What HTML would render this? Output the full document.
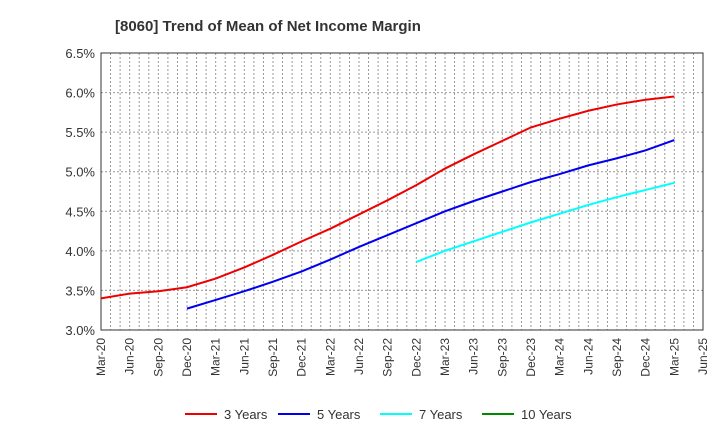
<!DOCTYPE html>
<html><head><meta charset="utf-8"><style>
body{margin:0;background:#fff;font-family:"Liberation Sans",Arial,sans-serif}
</style></head><body>
<svg width="720" height="440" xmlns="http://www.w3.org/2000/svg" style="font-family:'Liberation Sans',Arial,sans-serif">
<text x="115" y="31" font-size="15" font-weight="bold" fill="#333">[8060]  Trend of Mean of Net Income Margin</text>
<g id="grid"></g>
<g id="axes"></g>
<g id="series"></g>
<g id="legend"></g>
</svg>
<script>
const xLabels=["Mar-20","Jun-20","Sep-20","Dec-20","Mar-21","Jun-21","Sep-21","Dec-21","Mar-22","Jun-22","Sep-22","Dec-22","Mar-23","Jun-23","Sep-23","Dec-23","Mar-24","Jun-24","Sep-24","Dec-24","Mar-25","Jun-25"];
const yTicks=[3.0,3.5,4.0,4.5,5.0,5.5,6.0,6.5];
const y3=[3.40,3.46,3.49,3.54,3.65,3.79,3.95,4.12,4.28,4.46,4.64,4.83,5.04,5.22,5.39,5.56,5.67,5.77,5.85,5.91,5.95];
const y5=[null,null,null,3.27,3.38,3.49,3.61,3.74,3.89,4.05,4.20,4.35,4.50,4.63,4.75,4.87,4.97,5.08,5.17,5.27,5.40];
const y7=[null,null,null,null,null,null,null,null,null,null,null,3.86,4.00,4.12,4.24,4.36,4.47,4.58,4.68,4.77,4.86];
const y10=[];
const L=101,R=703,T=53,B=330,NS="http://www.w3.org/2000/svg";
const xs=i=>L+(R-L)*i/(xLabels.length-1);
const ys=v=>B-(v-3.0)/(6.5-3.0)*(B-T);
function mk(t,a,p){const e=document.createElementNS(NS,t);for(const k in a)e.setAttribute(k,a[k]);p.appendChild(e);return e;}
const g=document.getElementById('grid'),ax=document.getElementById('axes'),s=document.getElementById('series'),lg=document.getElementById('legend');
for(let m=1;m<(xLabels.length-1)*3;m++){const x=L+(R-L)*m/((xLabels.length-1)*3);
const l=mk('line',{x1:x,x2:x,y1:T,y2:B,stroke:'#999','stroke-dasharray':'2,2','stroke-width':1},g);

}
yTicks.forEach(v=>{const y=ys(v);
const l=mk('line',{x1:L,x2:R,y1:y,y2:y,stroke:'#999','stroke-dasharray':'2,2'},g);


const t=mk('text',{x:L-6,y:y+5,'text-anchor':'end','font-size':13,fill:'#333'},ax);t.textContent=v.toFixed(1)+'%';

});
const fr=mk('rect',{x:L,y:T,width:R-L,height:B-T,fill:'none',stroke:'#333'},ax);


xLabels.forEach((lb,i)=>{const x=xs(i);
const t=mk('text',{x:0,y:0,'text-anchor':'end','font-size':12,fill:'#333',transform:`translate(${x+4},${B+8}) rotate(-90)`},ax);t.textContent=lb;

});
const series=[[y3,'#e00','3 Years'],[y5,'#00e','5 Years'],[y7,'#0ff','7 Years'],[y10,'#080','10 Years']];
series.forEach(([d,c,n],k)=>{let pts=[];d.forEach((v,i)=>{if(v!=null)pts.push(xs(i)+','+ys(v));});
if(pts.length){const p=mk('polyline',{points:pts.join(' '),fill:'none',stroke:c,'stroke-width':2},s);

}
const lx=[185,278,380,482][k];
const li=mk('line',{x1:lx,x2:lx+32,y1:414,y2:414,stroke:c,'stroke-width':2},lg);


const t=mk('text',{x:lx+39,y:419,'font-size':13,fill:'#333'},lg);t.textContent=n;

});
</script>
</body></html>
